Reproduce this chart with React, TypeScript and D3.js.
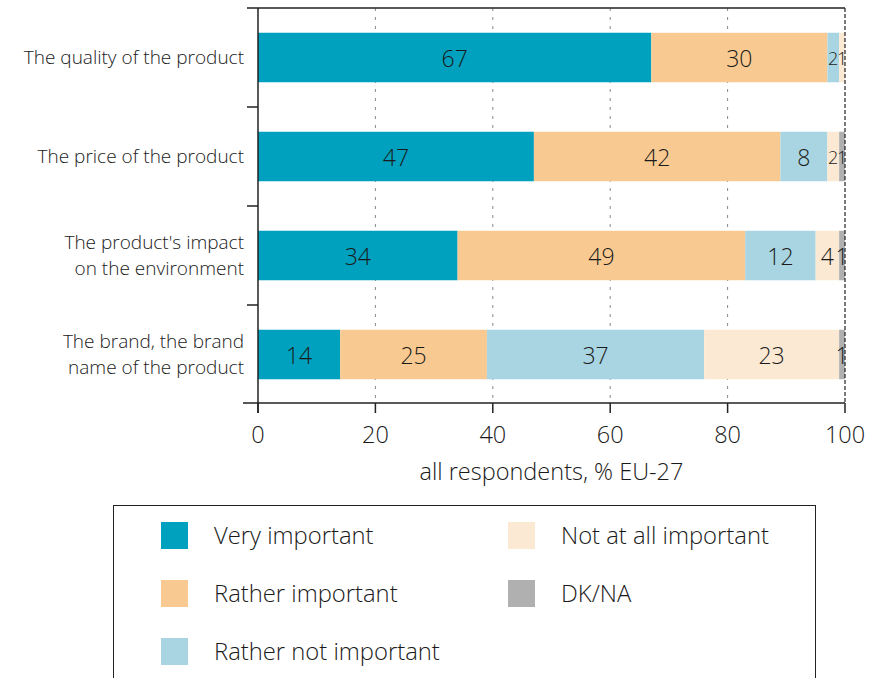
import React from "react";
import * as d3 from "d3";

const categories = [
  ["The quality of the product"],
  ["The price of the product"],
  ["The product's impact", "on the environment"],
  ["The brand, the brand", "name of the product"],
];
const seriesNames = ["Very important", "Rather important", "Rather not important", "Not at all important", "DK/NA"];
const veryImportant = [67, 47, 34, 14];
const ratherImportant = [30, 42, 49, 25];
const ratherNot = [2, 8, 12, 37];
const notAtAll = [1, 2, 4, 23];
const dkna = [0, 1, 1, 1];
const colors = ["#00a1bf", "#f8ca91", "#a8d5e1", "#fce9d3", "#b0b0b0"];
const xTicks = [0, 20, 40, 60, 80, 100];
const xTitle = "all respondents, % EU-27";

const W = 884, H = 678;
const FONT = "'Open Sans', 'Noto Sans', sans-serif";

export default function App() {
  const x = d3.scaleLinear().domain([0, 100]).range([258, 845]);
  const keys = categories.map((c) => c.join(" "));
  const y = d3.scaleBand().domain(keys).range([8, 404]).paddingInner(0.5).paddingOuter(0.25);
  const step = y.step();
  const series = [veryImportant, ratherImportant, ratherNot, notAtAll, dkna];
  const rows = keys.map((k, i) => {
    const r: any = { key: k };
    seriesNames.forEach((s, j) => (r[s] = series[j][i]));
    return r;
  });
  const stacked = d3.stack().keys(seriesNames)(rows);
  const axisY = 403;
  const segW = (j: number, i: number) =>
    j < 0 || j >= stacked.length ? 0 : x(stacked[j][i][1]) - x(stacked[j][i][0]);
  const narrow = (j: number, i: number) => {
    const w = segW(j, i);
    return w > 0 && w < 15;
  };

  return (
    <svg width={W} height={H} style={{ position: "absolute", left: 0, top: 0, fontFamily: FONT, fontWeight: 300 }}>
      <rect width={W} height={H} fill="#fff" />
      {/* grid */}
      {xTicks.slice(1, -1).map((t) => (
        <line key={t} x1={x(t)} x2={x(t)} y1={8} y2={axisY} stroke="#888" strokeWidth={1} strokeDasharray="3,6" />
      ))}
      {/* bars */}
      {stacked.map((s, j) =>
        s.map((d, i) =>
          d[1] - d[0] > 0 ? (
            <rect key={`${j}-${i}`} x={x(d[0])} y={y(keys[i])} width={x(d[1]) - x(d[0])} height={y.bandwidth()} fill={colors[j]} />
          ) : null
        )
      )}
      {stacked.map((s, j) =>
        s.map((d, i) => {
          const v = d[1] - d[0];
          if (v <= 0) return null;
          const shrink = narrow(j, i) && (narrow(j - 1, i) || narrow(j + 1, i));
          return (
            <text key={`t${j}-${i}`} x={(x(d[0]) + x(d[1])) / 2} y={y(keys[i])! + y.bandwidth() / 2} textAnchor="middle" dominantBaseline="central" fontSize={shrink ? 18 : 23} fill="#1a1a1a">
              {v}
            </text>
          );
        })
      )}
      {/* right dashed line at 100 */}
      <line x1={x(100)} x2={x(100)} y1={8} y2={axisY} stroke="#222" strokeWidth={1.2} strokeDasharray="4,2" />
      {/* top line */}
      <line x1={247} x2={x(100)} y1={8} y2={8} stroke="#222" strokeWidth={1.5} />
      {/* left axis */}
      <line x1={x(0)} x2={x(0)} y1={8} y2={413} stroke="#222" strokeWidth={1.5} />
      {keys.slice(1).map((k) => (
        <line key={k} x1={247} x2={x(0)} y1={y(k)! - (step - y.bandwidth()) / 2} y2={y(k)! - (step - y.bandwidth()) / 2} stroke="#222" strokeWidth={1.5} />
      ))}
      {/* bottom axis */}
      <line x1={243} x2={x(100)} y1={axisY} y2={axisY} stroke="#222" strokeWidth={1.5} />
      {xTicks.map((t) => (
        <g key={t}>
          <line x1={x(t)} x2={x(t)} y1={axisY} y2={413} stroke="#222" strokeWidth={1.5} />
          <text x={x(t)} y={434} textAnchor="middle" dominantBaseline="central" fontSize={23.5} fill="#1a1a1a">
            {t}
          </text>
        </g>
      ))}
      <text x={x(50)} y={471} textAnchor="middle" dominantBaseline="central" fontSize={23.5} fill="#1a1a1a">
        {xTitle}
      </text>
      {/* category labels */}
      {categories.map((lines, i) => {
        const cy = y(keys[i])! + y.bandwidth() / 2 - 1;
        return (
          <text key={i} x={244} textAnchor="end" fontSize={19} fill="#1a1a1a">
            {lines.map((l, li) => (
              <tspan key={li} x={244} y={cy + (li - (lines.length - 1) / 2) * 26} dominantBaseline="central">
                {l}
              </tspan>
            ))}
          </text>
        );
      })}
      {/* legend */}
      <rect x={113.5} y={505.5} width={702} height={200} fill="none" stroke="#222" strokeWidth={1} />
      {seriesNames.map((s, j) => {
        const col = j < 3 ? 0 : 1;
        const row = j < 3 ? j : j - 3;
        const lx = col === 0 ? 161 : 508;
        const cy = 535.5 + row * 58;
        return (
          <g key={s}>
            <rect x={lx} y={cy - 13.5} width={27} height={27} fill={colors[j]} />
            <text x={lx + 53} y={cy - 1} dominantBaseline="central" fontSize={23.8} fill="#1a1a1a">
              {s}
            </text>
          </g>
        );
      })}
    </svg>
  );
}
